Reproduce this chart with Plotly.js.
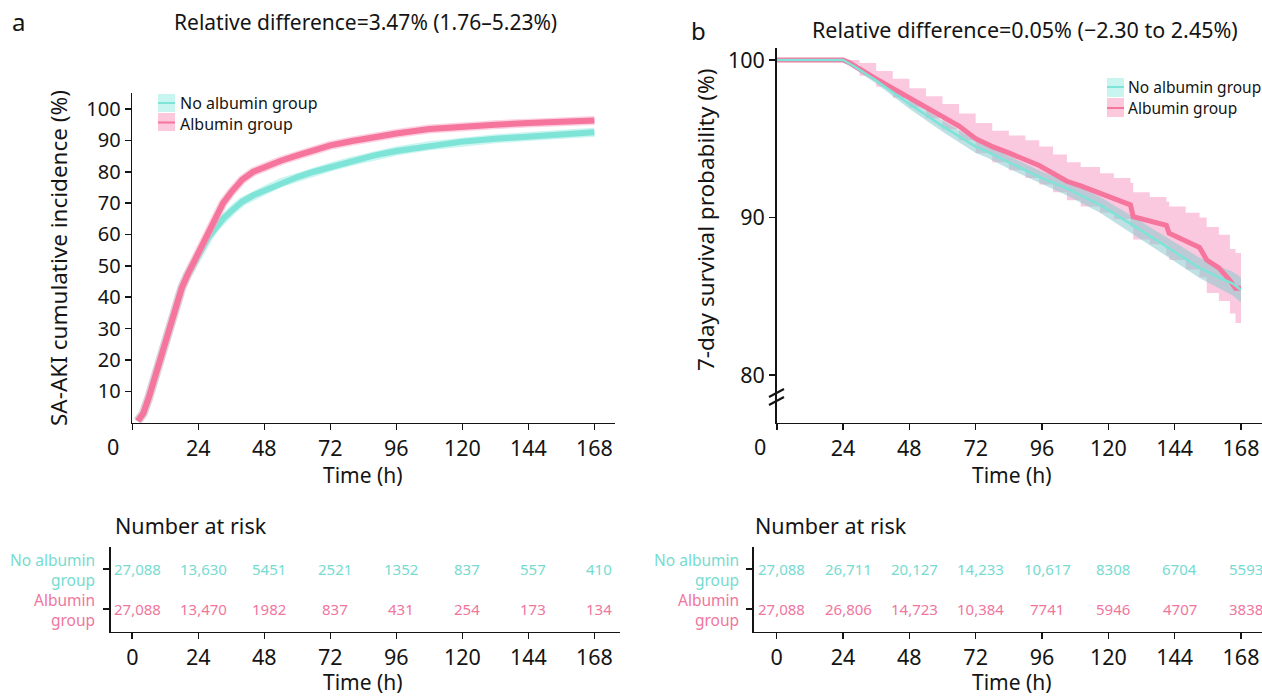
<!DOCTYPE html>
<html>
<head>
<meta charset="utf-8">
<script src="https://cdn.plot.ly/plotly-3.0.1.min.js"></script>
<style>html,body{margin:0;padding:0;background:#fff;}#chart{width:1262px;height:697px;}</style>
</head>
<body>
<div id="chart"></div>
<script>
// ---------- Panel a: SA-AKI cumulative incidence (%) ----------
const timeA  = [2, 4, 6, 8, 10, 12, 14, 16, 18, 20, 22, 24, 26, 28, 30, 33, 36, 40, 44, 48, 54, 60, 66, 72, 80, 88, 96, 108, 120, 132, 144, 156, 168];
const albA   = [0.5, 3, 8, 14, 20, 26, 32, 38, 43, 47, 50.5, 54, 58, 62, 65.5, 70, 73.5, 77.5, 80, 81.5, 83.5, 85.2, 87, 88.4, 89.8, 91.2, 92.2, 93.6, 94.5, 95, 95.5, 96, 96.3];
const noAlbA = [0.5, 3, 8, 14, 20, 26, 32, 38, 43, 47, 50.5, 53.5, 56.5, 59.5, 62, 65, 67.5, 70.5, 72.5, 74, 76.5, 78.3, 80, 81.5, 83.4, 85.2, 86.6, 88.3, 89.6, 90.5, 91.2, 92, 92.6];

// ---------- Panel b: 7-day survival probability (%) ----------
const timeBAlb  = [0, 24, 26, 30, 36, 42, 48, 54, 60, 66, 72, 78, 84, 90, 95, 100, 105, 110, 117, 122, 128, 129, 135, 141, 142, 148, 153, 155.6, 160, 164, 166, 168];
const albB      = [100, 100, 99.85, 99.4, 98.8, 98.2, 97.6, 97.0, 96.4, 95.8, 95.0, 94.5, 94.1, 93.7, 93.3, 92.8, 92.3, 92.0, 91.55, 91.2, 90.8, 90.05, 89.8, 89.5, 89.0, 88.5, 88.1, 87.3, 86.8, 86.0, 85.5, 85.5];
const albBUp    = [100, 100, 100, 99.8, 99.3, 98.8, 98.2, 97.7, 97.2, 96.6, 96.0, 95.5, 95.2, 94.9, 94.5, 94.0, 93.5, 93.2, 92.8, 92.5, 92.2, 91.6, 91.3, 91.0, 90.7, 90.3, 90.0, 89.4, 88.9, 88.0, 87.75, 87.75];
const albBLo    = [100, 100, 99.7, 99.0, 98.3, 97.6, 97.0, 96.3, 95.6, 94.9, 94.1, 93.5, 93.0, 92.5, 92.1, 91.6, 91.1, 90.7, 90.3, 89.9, 89.4, 88.6, 88.3, 87.6, 87.3, 86.7, 86.2, 85.2, 84.7, 83.9, 83.3, 83.3];
const timeBNo   = [0, 24, 28, 36, 48, 60, 72, 76, 84, 96, 105, 117, 129, 141, 153, 160, 165, 168];
const noAlbB    = [100, 100, 99.6, 98.7, 97.2, 95.8, 94.5, 94.2, 93.5, 92.5, 91.85, 90.8, 89.5, 88.15, 86.8, 86.2, 85.8, 85.4];
const noAlbBUp  = [100, 100, 99.75, 98.9, 97.5, 96.15, 94.9, 94.6, 93.9, 92.9, 92.3, 91.3, 90.05, 88.75, 87.45, 86.9, 86.55, 86.2];
const noAlbBLo  = [100, 100, 99.45, 98.5, 96.9, 95.45, 94.1, 93.8, 93.1, 92.1, 91.4, 90.3, 88.95, 87.55, 86.15, 85.5, 85.05, 84.6];

// ---------- Number at risk ----------
const riskTimes    = [0, 24, 48, 72, 96, 120, 144, 168];
const riskNoAlbA   = ["27,088", "13,630", "5451", "2521", "1352", "837", "557", "410"];
const riskAlbA     = ["27,088", "13,470", "1982", "837", "431", "254", "173", "134"];
const riskNoAlbB   = ["27,088", "26,711", "20,127", "14,233", "10,617", "8308", "6704", "5593"];
const riskAlbB     = ["27,088", "26,806", "14,723", "10,384", "7741", "5946", "4707", "3838"];
const tickLabels   = ["0", "24", "48", "72", "96", "120", "144", "168"];
const yTicksA      = [10, 20, 30, 40, 50, 60, 70, 80, 90, 100];
const yTicksB      = [80, 90, 100];

// ---------- styles ----------
const W = 1262, H = 697;
const FONT = "Noto Sans, Open Sans, DejaVu Sans, sans-serif";
const CYAN = "rgb(126,228,216)", CYAN_TXT = "rgb(118,219,208)";
const PINK = "rgb(245,117,156)", PINK_TXT = "rgb(240,118,158)";
const CYAN_PALE = "rgba(150,236,226,0.5)", PINK_PALE = "rgba(250,165,198,0.5)";
const INK = "#141414";
const px = v => v / W;
const py = v => 1 - v / H;

const traces = [
  // panel a
  {x: timeA, y: noAlbA, xaxis: "x", yaxis: "y", mode: "lines", line: {color: CYAN_PALE, width: 9}, hoverinfo: "skip"},
  {x: timeA, y: noAlbA, xaxis: "x", yaxis: "y", mode: "lines", line: {color: CYAN, width: 6}},
  {x: timeA, y: albA, xaxis: "x", yaxis: "y", mode: "lines", line: {color: PINK_PALE, width: 9}, hoverinfo: "skip"},
  {x: timeA, y: albA, xaxis: "x", yaxis: "y", mode: "lines", line: {color: PINK, width: 6}},
  // panel b bands
  {x: timeBAlb, y: albBUp, xaxis: "x2", yaxis: "y2", mode: "lines", line: {width: 0, color: PINK_PALE, shape: "hv"}, hoverinfo: "skip"},
  {x: timeBAlb, y: albBLo, xaxis: "x2", yaxis: "y2", mode: "lines", fill: "tonexty", fillcolor: "rgba(249,180,211,0.72)", line: {width: 0, color: PINK_PALE, shape: "hv"}, hoverinfo: "skip"},
  {x: timeBNo, y: noAlbBUp, xaxis: "x2", yaxis: "y2", mode: "lines", line: {width: 0, color: CYAN_PALE}, hoverinfo: "skip"},
  {x: timeBNo, y: noAlbBLo, xaxis: "x2", yaxis: "y2", mode: "lines", fill: "tonexty", fillcolor: "rgba(140,200,205,0.55)", line: {width: 0, color: CYAN_PALE}, hoverinfo: "skip"},
  {x: timeBAlb, y: albB, xaxis: "x2", yaxis: "y2", mode: "lines", line: {color: PINK, width: 5}},
  {x: timeBNo, y: noAlbB, xaxis: "x2", yaxis: "y2", mode: "lines", line: {color: CYAN, width: 2.5}}
];

const axBase = {showline: true, linecolor: INK, linewidth: 1.6, ticks: "outside", ticklen: 6, tickwidth: 1.6, tickcolor: INK,
  showgrid: false, zeroline: false, tickfont: {family: FONT, size: 21.5, color: INK}, fixedrange: true};
const mainXTicks = {tickmode: "array", tickvals: riskTimes, ticktext: tickLabels.map((t, i) => i === 0 ? "" : t)};

const layout = {
  width: W, height: H, margin: {l: 0, r: 0, t: 0, b: 0}, paper_bgcolor: "#fff", plot_bgcolor: "rgba(0,0,0,0)",
  showlegend: false, font: {family: FONT, color: INK},
  xaxis: Object.assign({}, axBase, mainXTicks, {domain: [px(132.3), px(615)], range: [0, 175.5], anchor: "y"}),
  yaxis: Object.assign({}, axBase, {domain: [py(422.7), py(93)], range: [0, 105.1], anchor: "x", tickmode: "array", tickvals: yTicksA, tickfont: {family: FONT, size: 20, color: INK}}),
  xaxis2: Object.assign({}, axBase, mainXTicks, {domain: [px(776.7), 1], range: [0, 175.6], anchor: "y2"}),
  yaxis2: Object.assign({}, axBase, {domain: [py(422.7), py(48)], range: [76.97, 100.76], anchor: "x2", tickmode: "array", tickvals: yTicksB}),
  xaxis3: Object.assign({}, axBase, {domain: [px(110.7), px(620)], range: [-7.85, 177.3], anchor: "y3", tickmode: "array", tickvals: riskTimes, ticktext: tickLabels}),
  yaxis3: Object.assign({}, axBase, {domain: [py(631.7), py(546.7)], range: [0.428, 2.569], anchor: "x3", tickmode: "array", tickvals: [1, 2], ticktext: ["", ""]}),
  xaxis4: Object.assign({}, axBase, {domain: [px(754), 1], range: [-8.2, 175.6], anchor: "y4", tickmode: "array", tickvals: riskTimes, ticktext: tickLabels}),
  yaxis4: Object.assign({}, axBase, {domain: [py(631.7), py(546.7)], range: [0.428, 2.569], anchor: "x4", tickmode: "array", tickvals: [1, 2], ticktext: ["", ""]}),
  shapes: [
    // legend a swatches
    {type: "rect", xref: "paper", yref: "paper", x0: px(158), x1: px(175), y0: py(112), y1: py(94), fillcolor: "rgb(200,245,240)", line: {width: 0}},
    {type: "line", xref: "paper", yref: "paper", x0: px(158), x1: px(175), y0: py(103), y1: py(103), line: {color: CYAN, width: 2}},
    {type: "rect", xref: "paper", yref: "paper", x0: px(158), x1: px(175), y0: py(131), y1: py(113), fillcolor: "rgb(251,200,220)", line: {width: 0}},
    {type: "line", xref: "paper", yref: "paper", x0: px(158), x1: px(175), y0: py(122.5), y1: py(122.5), line: {color: PINK, width: 2}},
    // legend b swatches
    {type: "rect", xref: "paper", yref: "paper", x0: px(1107), x1: px(1124), y0: py(97), y1: py(78), fillcolor: "rgb(200,245,240)", line: {width: 0}},
    {type: "line", xref: "paper", yref: "paper", x0: px(1107), x1: px(1124), y0: py(87), y1: py(87), line: {color: CYAN, width: 2}},
    {type: "rect", xref: "paper", yref: "paper", x0: px(1107), x1: px(1124), y0: py(117), y1: py(98), fillcolor: "rgb(251,200,220)", line: {width: 0}},
    {type: "line", xref: "paper", yref: "paper", x0: px(1107), x1: px(1124), y0: py(108), y1: py(108), line: {color: PINK, width: 2}},
    // axis break marks on panel b
    {type: "line", xref: "paper", yref: "paper", x0: px(769), x1: px(784), y0: py(397), y1: py(389), line: {color: INK, width: 2}},
    {type: "line", xref: "paper", yref: "paper", x0: px(769), x1: px(784), y0: py(405), y1: py(397), line: {color: INK, width: 2}}
  ],
  annotations: []
};

function ann(text, x, y, opts) {
  layout.annotations.push(Object.assign({text: text, x: px(x), y: py(y), xref: "paper", yref: "paper", showarrow: false,
    xanchor: "center", yanchor: "middle", font: {family: FONT, size: 21, color: INK}}, opts || {}));
}
// panel letters & titles
ann("a", 18, 21, {font: {family: FONT, size: 24, color: INK}});
ann("Relative difference=3.47% (1.76–5.23%)", 366, 22, {font: {family: FONT, size: 21, color: INK}});
ann("b", 698, 31, {font: {family: FONT, size: 24, color: INK}});
ann("Relative difference=0.05% (−2.30 to 2.45%)", 1025, 29, {font: {family: FONT, size: 21.5, color: INK}});
// axis titles
ann("SA-AKI cumulative incidence (%)", 58, 258, {textangle: -90, font: {family: FONT, size: 22.5, color: INK}});
ann("7-day survival probability (%)", 705, 220, {textangle: -90, font: {family: FONT, size: 22.5, color: INK}});
ann("Time (h)", 363, 475);
ann("Time (h)", 1012, 475);
ann("Time (h)", 363, 682);
ann("Time (h)", 1012, 682);
// shifted zero labels on main plots
ann("0", 113, 446, {font: {family: FONT, size: 21.5, color: INK}});
ann("0", 760, 446, {font: {family: FONT, size: 21.5, color: INK}});
// legends
ann("No albumin group", 178, 103, {xanchor: "left", font: {family: FONT, size: 16, color: INK}});
ann("Albumin group", 178, 124, {xanchor: "left", font: {family: FONT, size: 16, color: INK}});
ann("No albumin group", 1126, 87, {xanchor: "left", font: {family: FONT, size: 15.5, color: INK}});
ann("Albumin group", 1126, 108, {xanchor: "left", font: {family: FONT, size: 15.5, color: INK}});
// number at risk headers
ann("Number at risk", 113, 525, {xanchor: "left", font: {family: FONT, size: 21.5, color: INK}});
ann("Number at risk", 753, 525, {xanchor: "left", font: {family: FONT, size: 21.5, color: INK}});
// row labels
ann("No albumin<br>group", 97, 570, {xanchor: "right", align: "right", font: {family: FONT, size: 15.5, color: CYAN_TXT}});
ann("Albumin<br>group", 97, 610, {xanchor: "right", align: "right", font: {family: FONT, size: 15.5, color: PINK_TXT}});
ann("No albumin<br>group", 741, 570, {xanchor: "right", align: "right", font: {family: FONT, size: 15.5, color: CYAN_TXT}});
ann("Albumin<br>group", 741, 610, {xanchor: "right", align: "right", font: {family: FONT, size: 15.5, color: PINK_TXT}});

// number-at-risk values, placed on the risk-table axes
function riskRow(values, row, xa, ya, color) {
  values.forEach((v, i) => layout.annotations.push({text: v, x: riskTimes[i], y: row, xref: xa, yref: ya, showarrow: false,
    xanchor: "center", yanchor: "middle", xshift: 5, font: {family: FONT, size: 15, color: color}}));
}
riskRow(riskNoAlbA, 2, "x3", "y3", CYAN_TXT);
riskRow(riskAlbA, 1, "x3", "y3", PINK_TXT);
riskRow(riskNoAlbB, 2, "x4", "y4", CYAN_TXT);
riskRow(riskAlbB, 1, "x4", "y4", PINK_TXT);

Plotly.newPlot("chart", traces, layout, {displayModeBar: false, responsive: false, staticPlot: true});
</script>
</body>
</html>
